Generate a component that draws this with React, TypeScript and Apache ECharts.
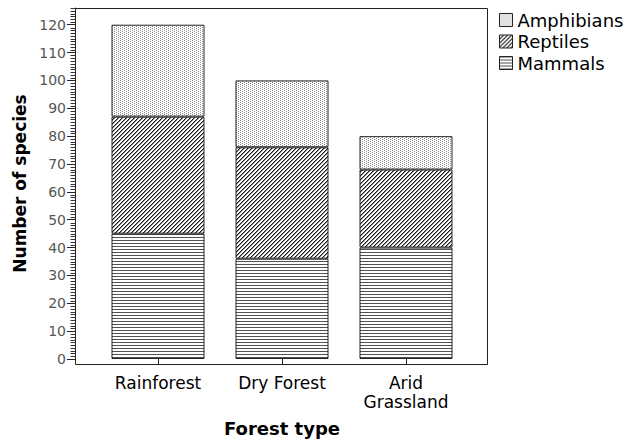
import React, { useEffect, useRef } from 'react';
import * as echarts from 'echarts';

const categories = ['Rainforest', 'Dry Forest', 'Arid\nGrassland'];
const mammals = [45, 36, 40];
const reptiles = [42, 40, 28];
const amphibians = [33, 24, 12];
const yTickValues = [0, 10, 20, 30, 40, 50, 60, 70, 80, 90, 100, 110, 120];
const Y_MAX = 126;
const minorTickValues = Array.from({ length: Y_MAX + 1 }, (_, i) => i).filter((v) => v % 10 !== 0);
const legendNames = ['Amphibians', 'Reptiles', 'Mammals'];

const FONT = "'DejaVu Sans', 'Liberation Sans', Arial, sans-serif";
const GRID_LEFT = 96;
const AXIS_OFFSET = 21;

type Px = [number, number, string];

function makeTile(w: number, h: number, pixels: Px[]) {
  const c = document.createElement('canvas');
  c.width = w;
  c.height = h;
  const ctx = c.getContext('2d')!;
  ctx.fillStyle = '#ffffff';
  ctx.fillRect(0, 0, w, h);
  pixels.forEach(([x, y, col]) => {
    ctx.fillStyle = col;
    ctx.fillRect(x, y, 1, 1);
  });
  return { image: c.toDataURL(), repeat: 'repeat', imageWidth: w, imageHeight: h } as any;
}

export default function App() {
  const ref = useRef<HTMLDivElement>(null);
  useEffect(() => {
    if (!ref.current) return;
    const chart = echarts.init(ref.current, undefined, { renderer: 'svg' });

    const dots = makeTile(4, 4, [
      [0, 0, '#8c8c8c'],
      [2, 1, '#8c8c8c'],
      [0, 2, '#8c8c8c'],
      [2, 3, '#8c8c8c'],
    ]);
    const hatch = makeTile(4, 4, [
      [3, 0, '#1a1a1a'], [2, 1, '#1a1a1a'], [1, 2, '#1a1a1a'], [0, 3, '#1a1a1a'],
      [0, 0, '#8a8a8a'], [3, 1, '#8a8a8a'], [2, 2, '#8a8a8a'], [1, 3, '#8a8a8a'],
    ]);
    const hlines = makeTile(4, 3, [
      [0, 0, '#505050'], [1, 0, '#505050'], [2, 0, '#505050'], [3, 0, '#505050'],
    ]);

    const segStyle = (fill: any) => ({ color: fill, borderColor: '#222', borderWidth: 1 });

    const box = {
      type: 'rect',
      shape: { x: 75.5, y: 8.5, width: 412, height: 356 },
      style: { fill: 'none', stroke: '#222', lineWidth: 1 },
      z: 100,
      silent: true,
    };

    chart.setOption({
      animation: false,
      backgroundColor: '#ffffff',
      grid: { left: GRID_LEFT, right: 163, top: 8, bottom: 78, containLabel: false },
      legend: {
        data: legendNames,
        orient: 'vertical',
        left: 499,
        top: 11,
        padding: 0,
        itemWidth: 13,
        itemHeight: 13,
        itemGap: 3.5,
        icon: 'rect',
        textStyle: { fontFamily: FONT, fontSize: 18, color: '#000' },
        itemStyle: { borderColor: '#222', borderWidth: 1 },
      },
      xAxis: {
        type: 'category',
        data: categories,
        axisLine: { show: false },
        axisTick: { show: true, alignWithLabel: true, length: 6, lineStyle: { color: '#222' } },
        axisLabel: { fontFamily: FONT, fontSize: 17, color: '#000', margin: 14, lineHeight: 19 },
        name: 'Forest type',
        nameLocation: 'middle',
        nameGap: 60,
        nameTextStyle: { fontFamily: FONT, fontSize: 18, fontWeight: 'bold', color: '#000' },
      },
      yAxis: {
        type: 'value',
        min: 0,
        max: Y_MAX,
        offset: AXIS_OFFSET,
        splitLine: { show: false },
        axisLine: { show: true, lineStyle: { color: '#222' } },
        axisTick: { show: true, length: 8, customValues: yTickValues, lineStyle: { color: '#222' } },
        axisLabel: { customValues: yTickValues, fontFamily: FONT, fontSize: 14, color: '#555', margin: 9 },
        name: 'Number of species',
        nameLocation: 'middle',
        nameGap: 46,
        nameTextStyle: { fontFamily: FONT, fontSize: 17, fontWeight: 'bold', color: '#000' },
      },
      graphic: [box],
      series: [
        { name: 'Mammals', type: 'bar', stack: 'total', barWidth: 93, data: mammals, itemStyle: segStyle(hlines) },
        { name: 'Reptiles', type: 'bar', stack: 'total', barWidth: 93, data: reptiles, itemStyle: segStyle(hatch) },
        { name: 'Amphibians', type: 'bar', stack: 'total', barWidth: 93, data: amphibians, itemStyle: segStyle(dots) },
      ],
    });

    // minor ticks, positioned through the y axis scale
    const axX = GRID_LEFT - AXIS_OFFSET + 0.5;
    const minorLines = minorTickValues.map((v) => {
      const py = chart.convertToPixel({ yAxisIndex: 0 }, v) as number;
      const y = Math.round(py) + 0.5;
      return {
        type: 'line',
        shape: { x1: axX - 5, y1: y, x2: axX, y2: y },
        style: { stroke: '#333', lineWidth: 1 },
        silent: true,
        z: 100,
      };
    });
    chart.setOption({ graphic: [box, ...minorLines] });

    return () => chart.dispose();
  }, []);
  return <div ref={ref} style={{ width: 631, height: 442, position: 'absolute', left: 0, top: 0 }} />;
}
